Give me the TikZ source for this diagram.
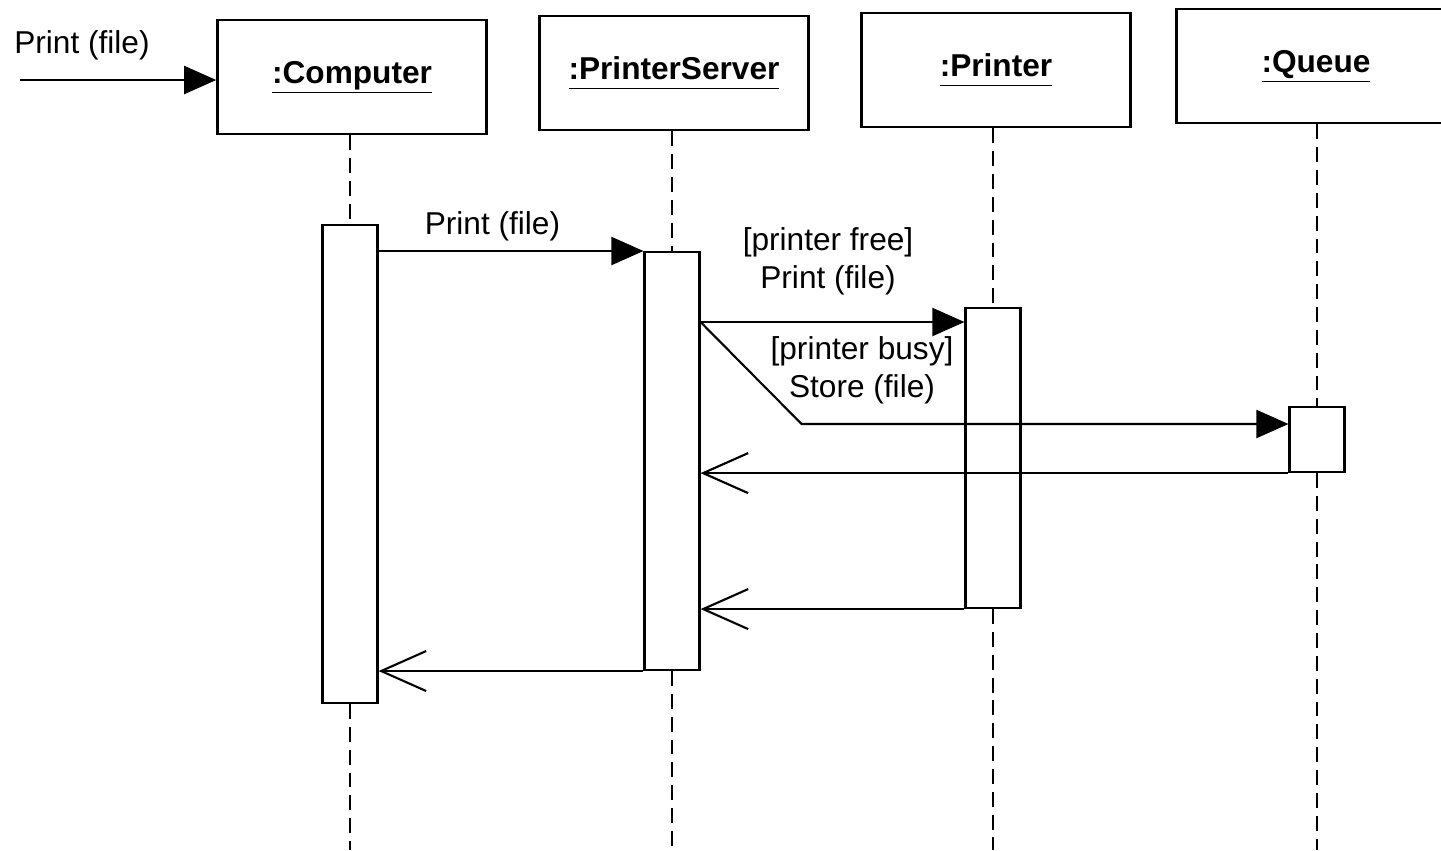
\documentclass[tikz,border=0pt]{standalone}
\usepackage{fontspec}
\setmainfont{Liberation Sans}
\usetikzlibrary{arrows.meta,positioning,calc}
\newcommand{\objlabel}[1]{\underline{#1\vphantom{p}}}

\begin{document}
\begin{tikzpicture}[x=0.02cm,y=-0.02cm,line width=1.2pt,
  font=\fontsize{18}{21.5}\selectfont,
  obj/.style={draw,line width=1.5pt,minimum width=5.38cm,minimum height=2.28cm,font=\fontsize{18}{21.5}\selectfont\bfseries},
  act/.style={draw,fill=white,minimum width=1.1cm,inner sep=0pt,anchor=north},
  life/.style={dash pattern=on 8.5pt off 4.5pt},
  call/.style={-{Triangle[length=0.64cm,width=0.56cm]}},
  ret/.style={-{Straight Barb[length=0.9cm,width=0.8cm]}}]
  \useasboundingbox (0,0) rectangle (1441,850);
  \clip (0,0) rectangle (1441,850);
  \coordinate (bottom) at (0,850);
  % objects
  \node[obj] (comp) at (352,77) {\objlabel{:Computer}};
  \node[obj] (srv) at (674,73) {\objlabel{:PrinterServer}};
  \node[obj] (prn) at (996,70) {\objlabel{:Printer}};
  \node[obj,minimum width=5.58cm] (que) at (1316,66) {\objlabel{:Queue}};
  % activations
  \node[act,minimum height=9.56cm] (cAct) at (350,224) {};
  \node[act,minimum height=8.36cm] (sAct) at (672,251) {};
  \node[act,minimum height=6cm] (pAct) at (993,307) {};
  \node[act,minimum height=1.3cm] (qAct) at (1317,406) {};
  \foreach \o/\a in {comp/cAct,srv/sAct,prn/pAct,que/qAct} {
    \draw[life] (\a.north |- \o.south) -- (\a.north);
    \draw[life] (\a.south) -- (\a.south |- bottom);
  }
  % messages
  \coordinate (start) at (20,80);
  \node (inLbl) at (82,45) {Print (file)};
  \draw[call] (start) -- (start -| comp.west);
  \draw[call] (cAct.east |- sAct.north) -- (sAct.north west) node[pos=0.43,above=2pt] (m1Lbl) {Print (file)};
  \coordinate (fork) at ($(sAct.north east)+(0,71)$);
  \coordinate (bend) at ($(fork)+(101,102)$);
  \draw[call] (fork) -- (fork -| pAct.west);
  \node[align=center] (freeLbl) at (828,261) {[printer free]\\Print (file)};
  \draw[call] (fork) -- (bend) -- (bend -| qAct.west);
  \node[align=center] (busyLbl) at (862,370) {[printer busy]\\Store (file)};
  \draw[ret] (qAct.south west) -- (qAct.south west -| sAct.east);
  \draw[ret] (pAct.south west) -- (pAct.south west -| sAct.east);
  \draw[ret] (sAct.south west) -- (sAct.south west -| cAct.east);
\end{tikzpicture}
\end{document}
